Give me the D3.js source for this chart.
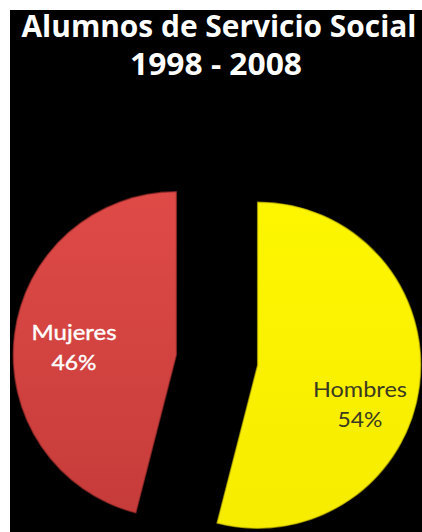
<!DOCTYPE html>
<html>
<head>
  <meta charset="utf-8">
  <script src="https://cdn.jsdelivr.net/npm/d3@7"></script>
  <style>
    body { margin: 0; background: #fff; }
    svg { display: block; }
  </style>
</head>
<body>
<script>
  // data
  var categories = ["Hombres", "Mujeres"];
  var percents = [54, 46];
  var titleLines = ["Alumnos de Servicio Social", "1998 - 2008"];

  var width = 422, height = 532;
  var cx = 217, cy = 360, radius = 163, explode = 41;

  var svg = d3.select("body").append("svg")
      .attr("width", width)
      .attr("height", height);

  // black panel (white strip on top/left like the scan)
  svg.append("rect")
      .attr("x", 10).attr("y", 10)
      .attr("width", width - 10).attr("height", height - 10)
      .attr("fill", "#000");

  var defs = svg.append("defs");
  function grad(id, top, bottom) {
    var g = defs.append("linearGradient").attr("id", id)
        .attr("x1", 0).attr("y1", 0).attr("x2", 0).attr("y2", 1);
    g.append("stop").attr("offset", "0%").attr("stop-color", top);
    g.append("stop").attr("offset", "100%").attr("stop-color", bottom);
  }
  grad("g-hombres", "#fdf600", "#f6ec00");
  grad("g-mujeres", "#df4a47", "#c63c3a");

  var fills = { Hombres: "url(#g-hombres)", Mujeres: "url(#g-mujeres)" };
  var textColor = { Hombres: "#3b3a20", Mujeres: "#ffffff" };

  // title
  svg.selectAll("text.title")
    .data(titleLines)
    .enter().append("text")
      .attr("class", "title")
      .attr("x", function(d, i) { return i == 0 ? 219 : 216; })
      .attr("y", function(d, i) { return i == 0 ? 37 : 75; })
      .attr("text-anchor", "middle")
      .attr("textLength", function(d, i) { return i == 0 ? 395 : 172; })
      .attr("lengthAdjust", "spacingAndGlyphs")
      .style("font-family", "'Open Sans', sans-serif")
      .style("font-weight", "bold")
      .style("font-size", "30px")
      .style("fill", "#fff")
      .text(function(d) { return d; });

  var data = categories.map(function(c, i) { return { name: c, value: percents[i] }; });

  var pie = d3.pie().sort(null).value(function(d) { return d.value; });
  var arc = d3.arc().innerRadius(0).outerRadius(radius);

  var slices = svg.selectAll("g.slice")
    .data(pie(data))
    .enter().append("g")
      .attr("class", "slice")
      .attr("transform", function(d) {
        var a = (d.startAngle + d.endAngle) / 2;
        return "translate(" + (cx + explode * Math.sin(a)) + "," + (cy - explode * Math.cos(a)) + ")";
      });

  slices.append("path")
      .attr("d", arc)
      .attr("fill", function(d) { return fills[d.data.name]; })
      .attr("stroke", function(d) { return d.data.name == "Hombres" ? "#d8cc00" : "#a8302f"; })
      .attr("stroke-width", 1.5)
      .attr("stroke-opacity", 0.6);

  // labels: [x, y name, y pct, width name, width pct]
  var labelPos = { Hombres: [360, 397, 427, 94, 45], Mujeres: [74, 340, 370, 85, 45] };
  slices.each(function(d) {
    var g = d3.select(this);
    var p = labelPos[d.data.name];
    var tr = this.getAttribute("transform").match(/translate\(([^,]+),([^)]+)\)/);
    var ox = +tr[1], oy = +tr[2];
    [d.data.name, d.data.value + "%"].forEach(function(s, i) {
      g.append("text")
        .attr("x", p[0] - ox)
        .attr("y", p[1 + i] - oy)
        .attr("text-anchor", "middle")
        .attr("textLength", p[3 + i])
        .attr("lengthAdjust", "spacingAndGlyphs")
        .style("font-family", "Lato, sans-serif")
        .style("font-size", "22px")
        .style("fill", textColor[d.data.name])
        .style("stroke", d.data.name == "Mujeres" ? "#fff" : "none")
        .style("stroke-width", 0.4)
        .text(s);
    });
  });
</script>
</body>
</html>
